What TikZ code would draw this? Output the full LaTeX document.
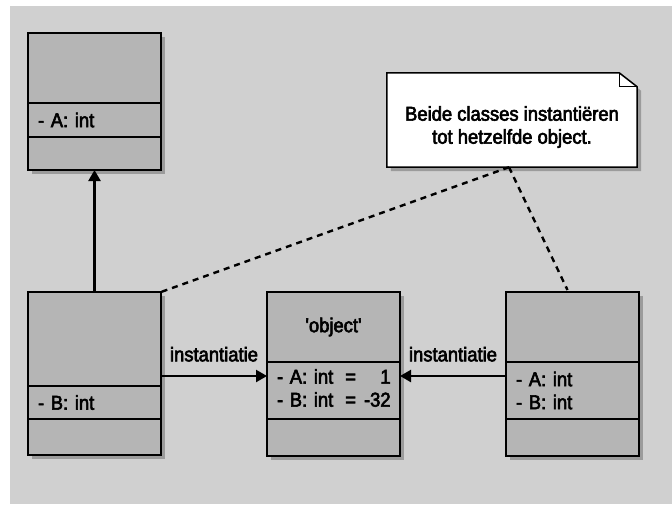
\documentclass[tikz,border=0pt]{standalone}
\usepackage{fontspec}
\setmainfont{Liberation Sans}[Ligatures=TeXOff,FakeBold=3,FakeStretch=0.92]
\usetikzlibrary{arrows.meta,positioning,calc,shadows,backgrounds}
\definecolor{bggray}{RGB}{208,208,208}
\definecolor{boxgray}{RGB}{181,181,181}

\begin{document}
\begin{tikzpicture}[x=1pt,y=-1pt,>={Triangle[length=11pt,width=12pt]},node distance=0pt,every node/.style={font=\fontsize{20}{23}\selectfont}]
\tikzstyle{c}=[draw,fill=boxgray,line width=1.5pt,minimum width=133pt,inner sep=0pt,inner xsep=10pt,outer sep=0pt,text width=113pt,align=left,drop shadow={shadow xshift=4pt,shadow yshift=-4pt,opacity=.25,fill=black}]
\tikzstyle{h}=[c,align=center]
\tikzstyle{lnk}=[->,line width=2.3pt]
\tikzstyle{dsh}=[line width=2.4pt,dash pattern=on 6pt off 5pt]
\useasboundingbox (0,0) rectangle (672,504);
% superklasse
\node[h,minimum height=70pt,anchor=north west] (supH) at (28,33) {};
\node[c,minimum height=34pt,below=of supH] (supA) {- A: int};
\node[c,minimum height=33pt,below=of supA] (supO) {};
% subklasse
\node[h,minimum height=94pt,anchor=north west] (subH) at (28,292) {};
\node[c,minimum height=33pt,below=of subH] (subB) {- B: int};
\node[c,minimum height=36pt,below=of subB] (subO) {};
% object
\node[h,minimum height=70pt,anchor=north west] (objH) at (267,292) {'object'};
\node[c,minimum height=57pt,below=of objH] (objA) {\begin{tabular}{@{}l@{\hspace{12pt}}l@{\hspace{8pt}}r@{}}- A: int&=&1\\- B: int&=&-32\end{tabular}};
\node[c,minimum height=37pt,below=of objA] (objO) {};
% tweede klasse
\node[h,minimum height=70pt,anchor=north west] (rH) at (506,292) {};
\node[c,minimum height=57pt,below=of rH] (rA) {- A: int\\- B: int};
\node[c,minimum height=37pt,below=of rA] (rO) {};
% notitie
\node[minimum width=250pt,minimum height=80pt,align=center,inner sep=0pt] (nb) at (512,127) {Beide classes instantiëren\\tot hetzelfde object.};
\begin{pgfonlayer}{background}
\fill[bggray] (10,6) rectangle (672,504);
\draw[line width=1.5pt,fill=white,drop shadow={shadow xshift=4pt,shadow yshift=-4pt,opacity=.25,fill=black}] (nb.south west) -- ([yshift=14pt]nb.north west) -- ([xshift=-18pt,yshift=14pt]nb.north east) -- (nb.north east) -- (nb.south east) -- cycle;
\draw[line width=1.2pt] ([xshift=-18pt,yshift=14pt]nb.north east) -- ([xshift=-18pt]nb.north east) -- (nb.north east);
\end{pgfonlayer}
% verbindingen
\draw[lnk] (subH.north) -- (supO.south);
\coordinate (m) at ($(subH.north east)+(0,84)$);
\draw[lnk] (m) -- (m -| objA.west) node[midway,above=10pt]{instantiatie};
\draw[lnk] (m -| rA.west) -- (m -| objA.east) node[midway,above=10pt]{instantiatie};
\draw[dsh] ([xshift=-3pt]nb.south) -- (subH.north east);
\draw[dsh] ([xshift=-3pt]nb.south) -- ([xshift=-5pt,yshift=2pt]rH.north);
\end{tikzpicture}
\end{document}
